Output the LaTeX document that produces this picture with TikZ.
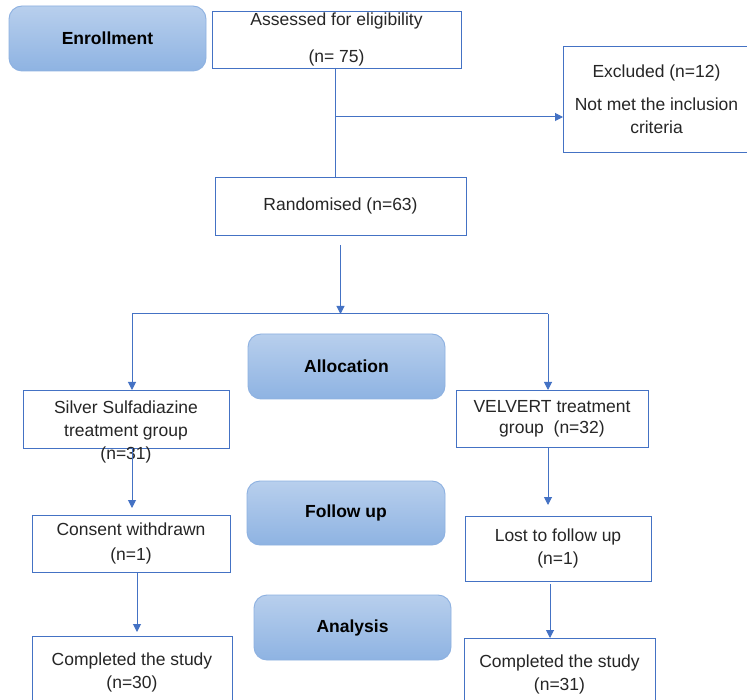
\documentclass[tikz,border=0pt]{standalone}
\usepackage{fontspec}
\setmainfont{Liberation Sans}
\usepackage{xcolor}
\usepackage{tikz}
\usetikzlibrary{arrows.meta,positioning}
\definecolor{flowblue}{RGB}{68,114,196}
\definecolor{stagetop}{RGB}{184,207,237}
\definecolor{stagebot}{RGB}{142,179,226}
\definecolor{stageedge}{RGB}{141,177,225}
\definecolor{flowtext}{RGB}{38,38,38}

\begin{document}
\begin{tikzpicture}[
  x=1pt,y=-1pt,
  every node/.style={font=\fontsize{17.5}{23}\selectfont,text=flowtext},
  box/.style={draw=flowblue,line width=0.9pt,align=center,inner sep=0pt,outer sep=0pt},
  stage/.style={draw=stageedge,line width=0.9pt,rounded corners=13pt,top color=stagetop,bottom color=stagebot,inner sep=0pt,outer sep=0pt,font=\fontsize{17.5}{23}\selectfont\bfseries,text=black},
  txt/.style={align=center,inner sep=0pt},
  arr/.style={draw=flowblue,line width=1pt,-{Triangle[length=8pt,width=8pt]}},
  link/.style={draw=flowblue,line width=1pt}
]
\path[fill=white] (0,0) rectangle (747,700);
\useasboundingbox (0,0) rectangle (747,700);
\clip (0,0) rectangle (747,700);

\node[stage,minimum width=197pt,minimum height=65pt] (enrol) at (107.5,38.5) {Enrollment};
\node[box,minimum width=249pt,minimum height=57pt] (assess) at (336.5,39.5) {Assessed for eligibility\\[14pt](n= 75)};
\node[box,minimum width=187pt,minimum height=106pt] (excl) at (656.5,99) {Excluded (n=12)\\[10pt]Not met the inclusion\\criteria};
\node[box,minimum width=251pt,minimum height=58pt] (rand) at (340.5,206) {Randomised (n=63)};

\node[stage,minimum width=197pt,minimum height=65pt] (alloc) at (346.5,366.5) {Allocation};
\node[box,minimum width=206pt,minimum height=58pt] (silver) at (126,419) {};
\node[txt] (silvertext) at (126,432) {Silver Sulfadiazine\\treatment group\\(n=31)};
\node[box,minimum width=192pt,minimum height=57pt] (velvert) at (552,418.5) {VELVERT treatment\\[-2pt]group~~(n=32)};

\node[stage,minimum width=198pt,minimum height=64pt] (follow) at (346,513) {Follow up};
\node[box,minimum width=198pt,minimum height=57pt] (consent) at (131,543.5) {Consent withdrawn\\[2pt](n=1)};
\node[box,minimum width=186pt,minimum height=65pt] (lost) at (558,548.5) {Lost to follow up\\(n=1)};

\node[stage,minimum width=197pt,minimum height=65pt] (analysis) at (352.5,627.5) {Analysis};
\node[box,minimum width=200pt,minimum height=72pt] (done1) at (132,672) {Completed the study\\(n=30)};
\node[box,minimum width=191pt,minimum height=72pt] (done2) at (559.5,674) {Completed the study\\(n=31)};

\coordinate (fork) at (335,117);
\coordinate (lsplit) at (132,314);
\coordinate (rsplit) at (548,314);
\coordinate (lrun) at (137,0);
\coordinate (rrun) at (550,0);

\draw[link] (assess.south -| fork) -- (rand.north -| fork);
\draw[arr] (fork) -- (fork -| excl.west);
\draw[arr] ([yshift=-10pt]rand.south) -- (rand.south |- lsplit);
\draw[link] (lsplit) -- (rsplit);
\draw[arr] (lsplit) -- (lsplit |- silver.north);
\draw[arr] (rsplit) -- (rsplit |- velvert.north);
\draw[arr] (lsplit |- silver.south) -- ([yshift=7pt]consent.north -| lsplit);
\draw[arr] (rsplit |- velvert.south) -- ([yshift=11pt]lost.north -| rsplit);
\draw[arr] (lrun |- consent.south) -- ([yshift=4pt]done1.north -| lrun);
\draw[arr] ([yshift=-3pt]lost.south -| rrun) -- (rrun |- done2.north);
\end{tikzpicture}
\end{document}
